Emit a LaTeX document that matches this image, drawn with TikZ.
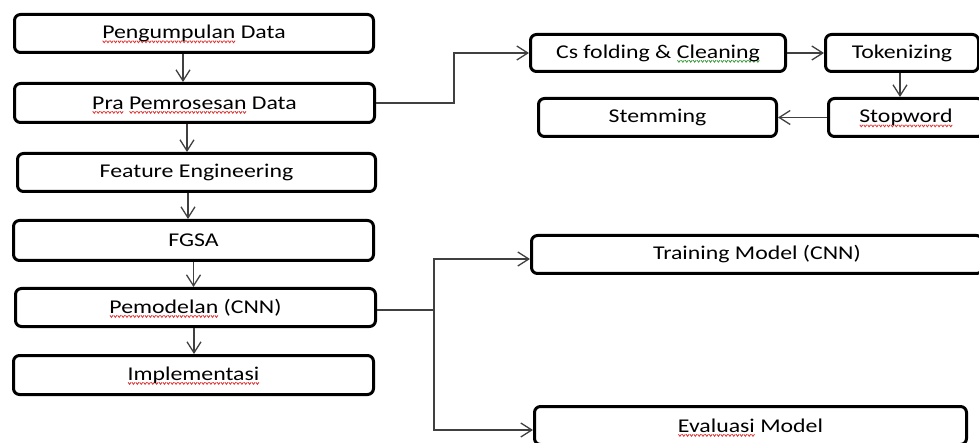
\documentclass[tikz,border=0pt]{standalone}
\usepackage{fontspec}
\setmainfont{Carlito}[FakeStretch=1.22]
\usetikzlibrary{arrows.meta}
\definecolor{sqred}{HTML}{E03030}
\definecolor{sqgreen}{HTML}{3A9A3A}
\definecolor{connc}{HTML}{404040}
\newsavebox{\redwave}
\newsavebox{\greenwave}
\newsavebox{\tmpsq}
\newcommand{\makewave}[2]{\sbox{#1}{\begin{pgfpicture}\pgfsetlinewidth{0.8pt}\pgfsetcolor{#2}%
  \pgfpathmoveto{\pgfpoint{0pt}{1pt}}\pgfpathlineto{\pgfpoint{1.5pt}{-1pt}}%
  \pgfpathlineto{\pgfpoint{3pt}{1pt}}\pgfusepath{stroke}\end{pgfpicture}}}
\newcommand{\sqline}[2]{\sbox{\tmpsq}{#2}%
  \rlap{\raisebox{-4.5pt}[0pt][0pt]{\hbox to \wd\tmpsq{\xleaders\copy#1\hfill}}}\usebox{\tmpsq}}
\newcommand{\redsq}[1]{\sqline{\redwave}{#1}}
\newcommand{\greensq}[1]{\sqline{\greenwave}{#1}}
\begin{document}
\makewave{\redwave}{sqred}\makewave{\greenwave}{sqgreen}%
\begin{tikzpicture}[x=1pt,y=-1pt,
  box/.style={draw=black, line width=3pt, rounded corners=6pt, inner sep=0pt,
    font=\fontsize{19.5}{23}\selectfont, text=black},
  conn/.style={draw=connc, line width=1.4pt, -{Straight Barb[length=11pt,width=14pt,line width=1.3pt]}},
  plain/.style={draw=connc, line width=1.4pt}]
\useasboundingbox (0,0) rectangle (979,443);
\clip (0,0) rectangle (979,443);
% left column
\node[box, minimum width=359pt, minimum height=38pt] (p1) at (194,33.5) {\redsq{Pengumpulan} Data};
\node[box, minimum width=360pt, minimum height=39pt] (p2) at (194.5,103) {\redsq{Pra} \redsq{Pemrosesan} Data};
\node[box, minimum width=358pt, minimum height=38pt] (p3) at (196.5,172.5) {Feature Engineering};
\node[box, minimum width=360pt, minimum height=40pt] (p4) at (193.5,240.5) {FGSA};
\node[box, minimum width=360pt, minimum height=38pt] (p5) at (195.5,307.5) {\redsq{Pemodelan} (CNN)};
\node[box, minimum width=360pt, minimum height=39pt] (p6) at (193.5,375) {\redsq{Implementasi}};
% right top
\node[box, minimum width=255pt, minimum height=37pt] (cs) at (658,53) {Cs folding \& \greensq{Cleaning}};
\node[box, minimum width=153pt, minimum height=37pt] (tok) at (902,53) {Tokenizing};
\node[box, minimum width=238pt, minimum height=38pt] (stem) at (657.5,117.5) {Stemming};
\node[box, minimum width=155pt, minimum height=38pt] (stop) at (906,117.5) {\redsq{Stopword}};
% right bottom
\node[box, minimum width=451pt, minimum height=38pt] (train) at (757,254.5) {Training Model (CNN)};
\node[box, minimum width=432pt, minimum height=38pt] (eval) at (750.5,425.5) {\redsq{Evaluasi} Model};
% vertical flow
\draw[conn] ([xshift=-11pt]p1.south) -- ([xshift=-11pt]p1.south |- p2.north);
\draw[conn] ([xshift=-7.5pt]p2.south) -- ([xshift=-7.5pt]p2.south |- p3.north);
\draw[conn] ([xshift=-8.5pt]p3.south) -- ([xshift=-8.5pt]p3.south |- p4.north);
\draw[conn] (p4.south) -- (p4.south |- p5.north);
\draw[conn] ([xshift=-1.5pt]p5.south) -- ([xshift=-1.5pt]p5.south |- p6.north);
% preprocessing branch
\draw[conn] (p2.east) -- ++(78,0) |- (cs.west);
\draw[conn] (cs.east) -- (tok.west);
\draw[conn] ([xshift=-2pt]tok.south) -- ([xshift=-2pt]tok.south |- stop.north);
\draw[conn] (stop.west) -- (stem.east);
% modelling branch
\coordinate (br) at (434,310);
\draw[plain] (p5.east |- br) -- (br);
\draw[conn] (br) |- ([yshift=-4.5pt]train.west);
\draw[conn] (br) |- ([yshift=-4.5pt]eval.west);
\end{tikzpicture}
\end{document}
